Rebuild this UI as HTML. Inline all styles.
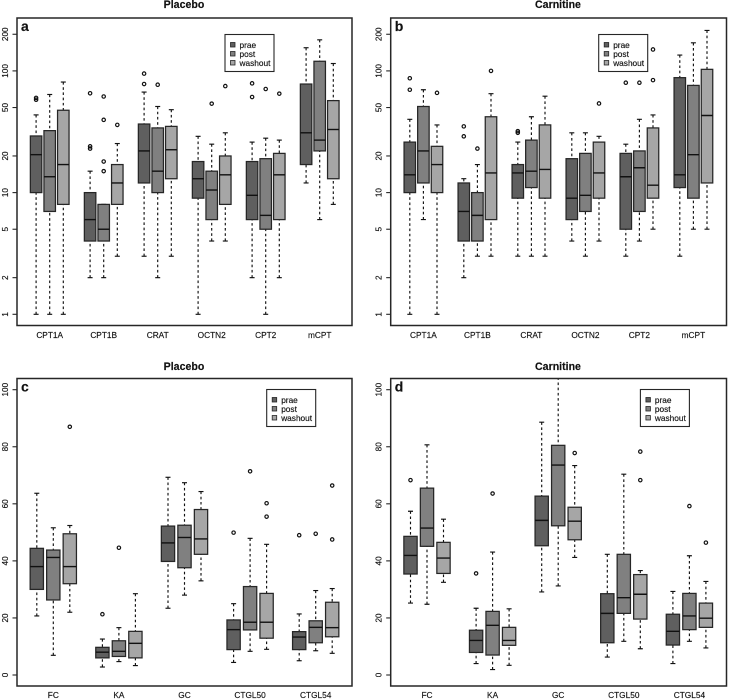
<!DOCTYPE html>
<html>
<head>
<meta charset="utf-8">
<title>Boxplots</title>
<style>
html,body{margin:0;padding:0;background:#fff;}
svg{display:block;filter:blur(0.35px);}
text{font-family:"Liberation Sans",sans-serif;fill:#111;stroke:#111;stroke-width:0.15px;}
</style>
</head>
<body>
<svg id="fig" xmlns="http://www.w3.org/2000/svg" width="730" height="700" viewBox="0 0 730 700"></svg>
<script>
const seriesNames = ['prae', 'post', 'washout'];
const categoriesTop = ['CPT1A', 'CPT1B', 'CRAT', 'OCTN2', 'CPT2', 'mCPT'];
const categoriesBottom = ['FC', 'KA', 'GC', 'CTGL50', 'CTGL54'];
const logTicks = [1, 2, 5, 10, 20, 50, 100, 200];
const linTicks = [0, 20, 40, 60, 80, 100];

// Each box: [lower whisker, q1, median, q3, upper whisker]
const aPrae = [[1,10,20.5,29.2,43.5],[2,4,6,10,15],[3,12,22,36.6,67],[1,9,13,18,29],[2,6,9.5,18,26],[12,17,31,78,155]];
const aPost = [[1,7,13.5,32.3,64],[2,4,5,8,8],[2,10,15,34,51],[4,6,10.5,15,25],[1,5,6.5,19,28],[6,22,27,120,180]];
const aWash = [[1,8,17,47.5,81],[3,8,12,17,25.3],[3,13,22.5,35,48],[4,8,14,20,31],[2,6,14,21,27],[8,13,33,57,115]];
const aPraeOut = [[58,60],[23,24,65.5],[78,95],[],[61,79],[]];
const aPostOut = [[],[15,18,39.6,61.6],[77],[53.8],[71],[]];
const aWashOut = [[],[36],[],[75],[65],[]];

const bPrae = [[1,10,14,26,40],[2,4,7,12,13],[3,9,14.5,17,26],[4,6,9,19,31],[3,5,13.5,21,25],[3,11,14,88,135]];
const bPost = [[6,12,22,51,70],[3,4,6.5,10,17],[3,11,15,27,42],[3,7,9.5,21,31],[4,7,16,22,40],[5,9,20.5,76,170]];
const bWash = [[1,10,17,24,36],[3,6,14.5,42,65],[3,9,15.5,36,62],[4,9,14.5,26,29],[5,9,11.5,34,43.5],[5,12,43,103,215]];
const bPraeOut = [[70,87],[29,35],[31,32],[],[80],[]];
const bPostOut = [[],[23],[],[],[80],[]];
const bWashOut = [[66],[100],[],[54],[84,150],[]];

const cPrae = [[20.7,30,38,44.4,63.7],[2.8,6,8,9.7,12.6],[23.4,39.8,46.3,52.2,69.3],[4.4,8.9,15.9,19.3,25],[5,8.9,13.3,15.2,21.4]];
const cPost = [[6.9,26.3,41.2,43.8,51.6],[4.7,6.5,8.3,12,16.6],[28,37.6,48.2,52.5,67.4],[8.3,15.8,18.5,31,47.9],[8.5,11.3,16.7,19,29.6]];
const cWash = [[22,32,38,49.5,52.4],[3.3,6,11.1,15.3,28.5],[33,42.3,47.7,58,64.3],[9,12.9,18.5,28.6,45.8],[7.6,13.4,16.6,25.5,30.3]];
const cPraeOut = [[],[21.3],[],[49.9],[49]];
const cPostOut = [[],[44.6],[],[71.4],[49.5]];
const cWashOut = [[87],[],[],[55.5,60.2],[47.5,66.4]];

const dPrae = [[25.2,35.4,41.9,48.6,57.4],[4,7.9,12.1,15.7,23.4],[29.1,45.3,54.2,62.7,88.6],[6.3,11.3,21.6,28.5,42.3],[4,10.5,15.3,21.3,29.3]];
const dPost = [[24.8,45.1,51.5,65.5,80.7],[1.9,7,17.4,22.3,43.1],[31.2,52.3,73.6,80.5,108],[11.8,21.6,27.1,42.3,70.4],[11.8,15.9,20.7,28.6,41.8]];
const dWash = [[32.5,35.6,41,46.5,54.6],[3.4,10.4,12.1,16.7,23.2],[41.2,47.4,53.9,58.8,73.4],[9.2,19.6,28.3,35.2,36.6],[9.5,16.7,19.9,25.2,32.8]];
const dPraeOut = [[68.3],[35.6],[],[],[]];
const dPostOut = [[],[63.6],[],[],[59.2]];
const dWashOut = [[],[],[77.8],[68.3,78.3],[46.4]];

const NS = 'http://www.w3.org/2000/svg';
const fig = document.getElementById('fig');
const fills = ['#5f5f5f', '#808080', '#a6a6a6'];
const ink = '#262626';

function mk(tag, attrs, parent) {
  const el = document.createElementNS(NS, tag);
  for (const k in attrs) el.setAttribute(k, attrs[k]);
  parent.appendChild(el);
  return el;
}

function drawPanel(p) {
  const g = mk('g', {}, fig);
  
  

  const y = p.log
    ? function (v) { return p.y0 - Math.log10(v) * p.perUnit; }
    : function (v) { return p.y0 - v * p.perUnit; };
  const x = function (i, s) { return p.x0 + i * p.groupStep + (s - 1) * p.seriesStep; };

  const clip = mk('clipPath', { id: 'clip-' + p.letter }, g);
  mk('rect', { x: p.left, y: p.top, width: p.right - p.left, height: p.bottom - p.top }, clip);

  const title = mk('text', { x: p.titleX, y: p.titleY, 'text-anchor': 'middle', 'font-size': 10.6, 'font-weight': 'bold' }, g);
  title.textContent = p.title;
  
  

  const marks = mk('g', { 'clip-path': 'url(#clip-' + p.letter + ')' }, g);
  
  

  p.series.forEach(function (rows, s) {
    rows.forEach(function (row, i) {
      const cx = x(i, s);
      const hw = p.boxWidth / 2;
      const cap = 2.5;
      const box = mk('g', {}, marks);
      
      

      const lowWhisker = mk('line', { x1: cx, x2: cx, y1: y(row[0]), y2: y(row[1]), stroke: '#111', 'stroke-width': 1.15, 'stroke-dasharray': '2.6,2.6' }, box);
      
      
      const highWhisker = mk('line', { x1: cx, x2: cx, y1: y(row[4]), y2: y(row[3]), stroke: '#111', 'stroke-width': 1.15, 'stroke-dasharray': '2.6,2.6' }, box);
      
      
      const lowCap = mk('line', { x1: cx - cap, x2: cx + cap, y1: y(row[0]), y2: y(row[0]), stroke: '#111', 'stroke-width': 1.15 }, box);
      
      
      const highCap = mk('line', { x1: cx - cap, x2: cx + cap, y1: y(row[4]), y2: y(row[4]), stroke: '#111', 'stroke-width': 1.15 }, box);
      
      
      const rect = mk('rect', { x: cx - hw, y: y(row[3]), width: p.boxWidth, height: y(row[1]) - y(row[3]), fill: fills[s], stroke: ink, 'stroke-width': 1.25 }, box);
      
      
      const med = mk('line', { x1: cx - hw, x2: cx + hw, y1: y(row[2]), y2: y(row[2]), stroke: '#111', 'stroke-width': 1.4 }, box);
      
      

      p.outliers[s][i].forEach(function (v) {
        const dot = mk('circle', { cx: cx, cy: y(v), r: 1.7, fill: 'none', stroke: '#111', 'stroke-width': 1.2 }, box);
        
        
      });
    });
  });

  const frame = mk('rect', { x: p.left, y: p.top, width: p.right - p.left, height: p.bottom - p.top, fill: 'none', stroke: ink, 'stroke-width': 1.5 }, g);
  
  

  const letter = mk('text', { x: p.left + 4, y: p.top + 13, 'font-size': 14, 'font-weight': 'bold' }, g);
  letter.textContent = p.letter;
  
  

  p.ticks.forEach(function (t) {
    const tick = mk('line', { x1: p.left - 4.5, x2: p.left, y1: y(t), y2: y(t), stroke: ink, 'stroke-width': 1.1 }, g);
    
    
    const lx = p.left - 9;
    const label = mk('text', { x: lx, y: y(t), 'text-anchor': 'middle', 'font-size': 8.2, transform: 'rotate(-90 ' + lx + ' ' + y(t) + ')' }, g);
    label.textContent = t;
    
    
  });

  p.categories.forEach(function (c, i) {
    const label = mk('text', { x: x(i, 1), y: p.labelY, 'text-anchor': 'middle', 'font-size': 8.3 }, g);
    label.textContent = c;
    
    
  });

  const legend = mk('g', {}, g);
  
  
  const legendBox = mk('rect', { x: p.legendX, y: p.legendY, width: 49, height: 37, fill: '#fff', stroke: ink, 'stroke-width': 1.1 }, legend);
  
  
  seriesNames.forEach(function (n, s) {
    const rowY = p.legendY + 10.5 + s * 9;
    const entry = mk('g', {}, legend);
    
    
    const swatch = mk('rect', { x: p.legendX + 5.5, y: rowY - 2.5, width: 4.5, height: 4.5, fill: fills[s], stroke: ink, 'stroke-width': 0.8 }, entry);
    
    
    const text = mk('text', { x: p.legendX + 14.5, y: rowY + 3, 'font-size': 8.3 }, entry);
    text.textContent = n;
    
    
  });
}

const topCommon = { categories: categoriesTop, ticks: logTicks, log: true, top: 18, bottom: 325.5, y0: 314.3, perUnit: 121.7, groupStep: 54, seriesStep: 13.6, boxWidth: 11.5, labelY: 338 };
const bottomCommon = { categories: categoriesBottom, ticks: linTicks, log: false, top: 378.5, bottom: 686, y0: 675, perUnit: 2.853, groupStep: 65.6, seriesStep: 16.5, boxWidth: 13.3, labelY: 698 };

drawPanel(Object.assign({}, topCommon, { letter: 'a', title: 'Placebo', titleX: 184, titleY: 8, left: 17, right: 352, x0: 49.7, legendX: 225, legendY: 34.5, series: [aPrae, aPost, aWash], outliers: [aPraeOut, aPostOut, aWashOut] }));
drawPanel(Object.assign({}, topCommon, { letter: 'b', title: 'Carnitine', titleX: 558, titleY: 8, left: 390.7, right: 726.5, x0: 423.4, legendX: 598.7, legendY: 34.5, series: [bPrae, bPost, bWash], outliers: [bPraeOut, bPostOut, bWashOut] }));
drawPanel(Object.assign({}, bottomCommon, { letter: 'c', title: 'Placebo', titleX: 184, titleY: 370, left: 17, right: 352, x0: 53.3, legendX: 266.7, legendY: 389.5, series: [cPrae, cPost, cWash], outliers: [cPraeOut, cPostOut, cWashOut] }));
drawPanel(Object.assign({}, bottomCommon, { letter: 'd', title: 'Carnitine', titleX: 558, titleY: 370, left: 390.7, right: 726.5, x0: 427, legendX: 640.4, legendY: 389.5, series: [dPrae, dPost, dWash], outliers: [dPraeOut, dPostOut, dWashOut] }));
</script>
</body>
</html>
